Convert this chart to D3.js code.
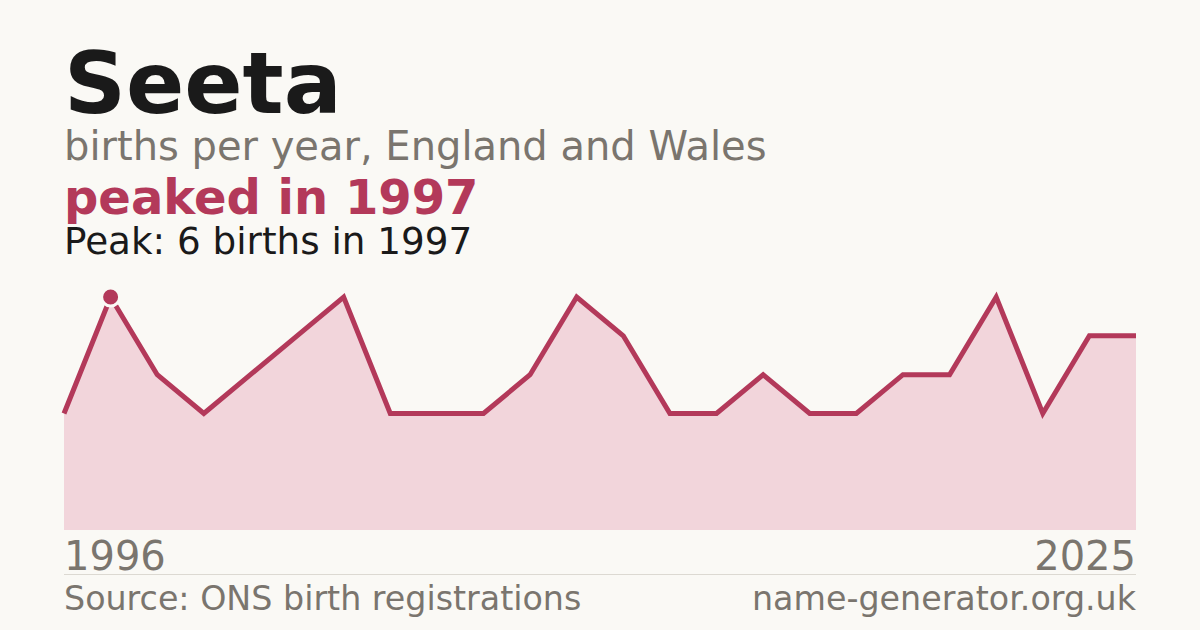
<!DOCTYPE html>
<html>
<head>
<meta charset="utf-8">
<script src="https://cdn.jsdelivr.net/npm/d3@7"></script>
<style>
  html, body { margin: 0; padding: 0; background: #faf9f5; }
  svg { display: block; font-family: "DejaVu Sans", sans-serif; }
</style>
</head>
<body>
<div id="chart"></div>
<script>
// years with recorded births (gaps are years with none)
const years = [1996, 1997, 1998, 1999, 2000, 2001, 2002, 2005, 2006, 2007,
  2009, 2010, 2011, 2014, 2015, 2016, 2017, 2018, 2020, 2021,
  2022, 2023, 2024, 2025];
const births = [3, 6, 4, 3, 4, 5, 6, 3, 3, 3,
  4, 6, 5, 3, 3, 4, 3, 3, 4, 4,
  6, 3, 5, 5];
const peakYear = 1997;
const peakValue = 6;

const width = 1200;
const height = 630;
const margin = { left: 64, right: 64, top: 297, bottom: 530 };

const accent = '#b3395a';
const grey = '#7a756e';

const data = years.map((y, i) => ({ year: y, value: births[i] }));

const svg = d3
  .select('#chart')
  .append('svg')
  .attr('width', width)
  .attr('height', height);

svg.append('rect')
  .attr('width', width)
  .attr('height', height)
  .attr('fill', '#faf9f5');

// header
svg.append('text')
  .attr('x', 64).attr('y', 113)
  .attr('font-size', 86).attr('font-weight', 'bold')
  .attr('fill', '#1a1a1a')
  .text('Seeta');

svg.append('text')
  .attr('x', 64).attr('y', 160)
  .attr('font-size', 40)
  .attr('fill', grey)
  .text('births per year, England and Wales');

svg.append('text')
  .attr('x', 64).attr('y', 214)
  .attr('font-size', 48).attr('font-weight', 'bold')
  .attr('fill', accent)
  .text('peaked in ' + peakYear);

svg.append('text')
  .attr('x', 64).attr('y', 254)
  .attr('font-size', 37.3)
  .attr('fill', '#1a1a1a')
  .text(`Peak: ${peakValue} births in ${peakYear}`);

// scales
const x = d3.scalePoint()
  .domain(years)
  .range([margin.left, width - margin.right]);

const y = d3.scaleLinear()
  .domain([0, d3.max(births)])
  .range([margin.bottom, margin.top]);

const area = d3.area()
  .x((d) => x(d.year))
  .y0(y(0))
  .y1((d) => y(d.value));

const line = d3.line()
  .x((d) => x(d.year))
  .y((d) => y(d.value));

svg.append('path')
  .datum(data)
  .attr('d', area)
  .attr('fill', '#f2d5db');

svg.append('path')
  .datum(data)
  .attr('d', line)
  .attr('fill', 'none')
  .attr('stroke', accent)
  .attr('stroke-width', 5)
  .attr('stroke-linejoin', 'miter');

// peak marker
const peak = data.find((d) => d.year === peakYear);
svg.append('circle')
  .attr('cx', x(peak.year))
  .attr('cy', y(peak.value))
  .attr('r', 9)
  .attr('fill', accent)
  .attr('stroke', '#faf9f5')
  .attr('stroke-width', 3);

// end-year labels
svg.append('text')
  .attr('x', margin.left).attr('y', 570)
  .attr('font-size', 40)
  .attr('fill', grey)
  .text(years[0]);

svg.append('text')
  .attr('x', width - margin.right).attr('y', 570)
  .attr('text-anchor', 'end')
  .attr('font-size', 40)
  .attr('fill', grey)
  .text(years[years.length - 1]);

// footer rule and text
svg.append('line')
  .attr('x1', margin.left).attr('x2', width - margin.right)
  .attr('y1', 574.5).attr('y2', 574.5)
  .attr('stroke', '#dcd9d2')
  .attr('stroke-width', 1);

svg.append('text')
  .attr('x', margin.left).attr('y', 610)
  .attr('font-size', 33.3)
  .attr('fill', grey)
  .text('Source: ONS birth registrations');

svg.append('text')
  .attr('x', width - margin.right).attr('y', 610)
  .attr('text-anchor', 'end')
  .attr('font-size', 33.3)
  .attr('fill', grey)
  .text('name-generator.org.uk');
</script>
</body>
</html>
